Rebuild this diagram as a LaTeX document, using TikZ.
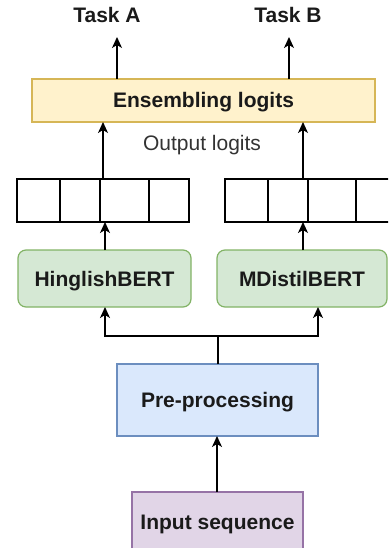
\documentclass[tikz,border=0pt]{standalone}
\usepackage{fontspec}
\setmainfont{Liberation Sans}
\usetikzlibrary{arrows.meta,calc}
\definecolor{ensfill}{HTML}{FFF2CC}
\definecolor{ensdraw}{HTML}{D6B656}
\definecolor{grnfill}{HTML}{D5E8D4}
\definecolor{grndraw}{HTML}{82B366}
\definecolor{blufill}{HTML}{DAE8FC}
\definecolor{bludraw}{HTML}{6C8EBF}
\definecolor{purfill}{HTML}{E1D5E7}
\definecolor{purdraw}{HTML}{9673A6}
\definecolor{txt}{HTML}{1A1A1A}
\begin{document}
\begin{tikzpicture}[x=1pt,y=-1pt,
  every node/.style={inner sep=0pt, outer sep=0pt, text=txt, text height=15pt, text depth=0pt},
  bigtxt/.style={font=\fontsize{21}{24}\selectfont\bfseries},
  box/.style={draw, line width=1.2pt, bigtxt},
  logitbox/.style={draw=black, line width=1.4pt},
  arr/.style={draw=black, line width=1.4pt, -{Stealth[length=11pt,width=10pt,inset=3pt]}},
  ln/.style={draw=black, line width=1.4pt}]
\useasboundingbox (0,0) rectangle (388,548);
\clip (0,0) rectangle (388,548);
% tasks
\node[bigtxt] (taskA) at (107,15) {Task A};
\node[bigtxt] (taskB) at (288,15) {Task B};
% ensembling
\node[box, draw=ensdraw, fill=ensfill, minimum width=343pt, minimum height=43pt] (ens) at (203.5,100.5) {Ensembling logits};
\node[font=\fontsize{21}{24}\selectfont, text=black!80] (outl) at (202,143) {Output logits};
% logits arrays
\node[logitbox, minimum width=172pt, minimum height=43pt] (lgA) at (103,200.5) {};
\node[logitbox, minimum width=174pt, minimum height=43pt] (lgB) at (312,200.5) {};
\foreach \x in {60,100,149} \draw[ln] (\x,0 |- lgA.north) -- (\x,0 |- lgA.south);
\foreach \x in {268,308,356} \draw[ln] (\x,0 |- lgB.north) -- (\x,0 |- lgB.south);
% models
\node[box, draw=grndraw, fill=grnfill, rounded corners=8pt, minimum width=173pt, minimum height=57pt] (hb) at (104.5,278.5) {HinglishBERT};
\node[box, draw=grndraw, fill=grnfill, rounded corners=8pt, minimum width=170pt, minimum height=57pt] (md) at (302,278.5) {MDistilBERT};
% preprocessing
\node[box, draw=bludraw, fill=blufill, minimum width=201pt, minimum height=72pt] (pre) at (217.5,400) {Pre-processing};
\node[box, draw=purdraw, fill=purfill, minimum width=171pt, minimum height=60pt] (inp) at (217.5,522) {Input sequence};
% connectors
\draw[arr] (117,0 |- ens.north) -- (117,37);
\draw[arr] (289,0 |- ens.north) -- (289,37);
\draw[arr] (103,0 |- lgA.north) -- (103,0 |- ens.south);
\draw[arr] (303,0 |- lgB.north) -- (303,0 |- ens.south);
\draw[arr] (105,0 |- hb.north) -- (105,0 |- lgA.south);
\draw[arr] (303,0 |- md.north) -- (303,0 |- lgB.south);
\coordinate (split) at (218,336);
\draw[ln] (218,0 |- pre.north) -- (split);
\draw[arr] (split) -| (105,0 |- hb.south);
\draw[arr] (split) -| (318,0 |- md.south);
\draw[arr] (217,0 |- inp.north) -- (217,0 |- pre.south);
\end{tikzpicture}
\end{document}
